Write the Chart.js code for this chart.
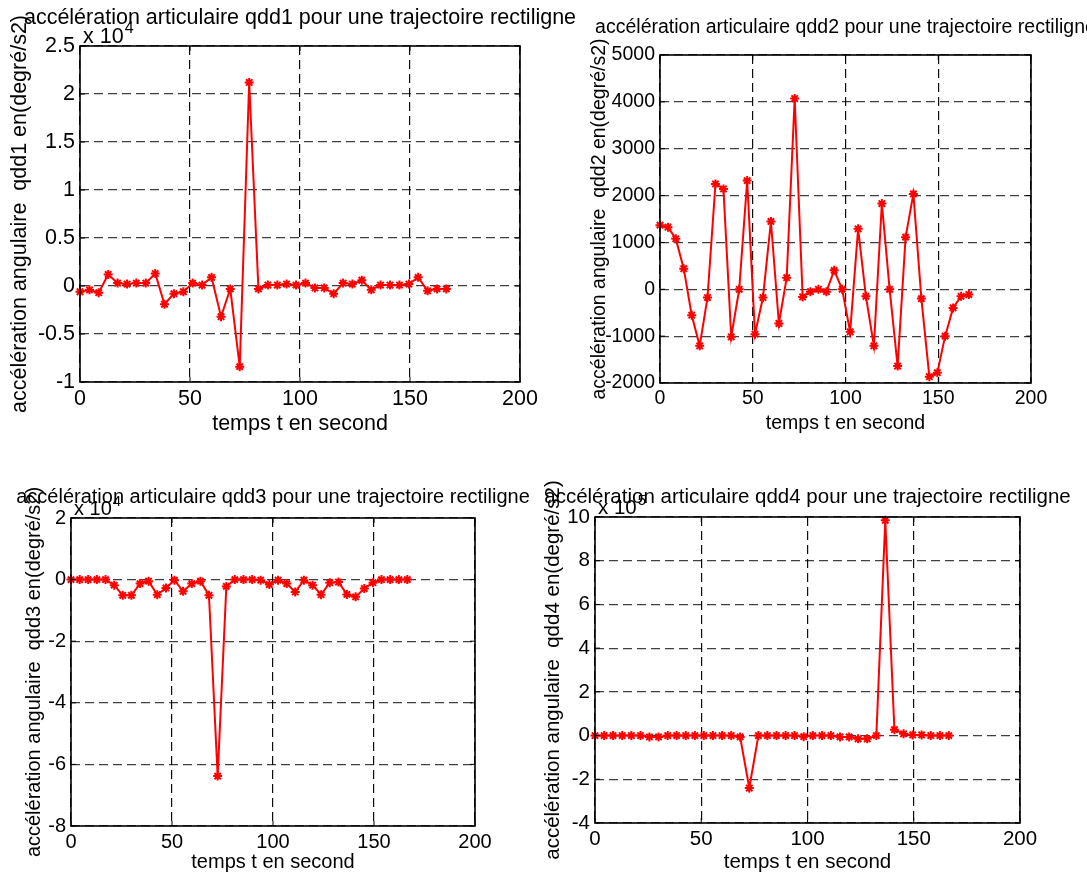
<!DOCTYPE html>
<html lang="fr">
  <head>
    <meta charset="UTF-8" />
    <title>accélération articulaire</title>
    <script src="https://cdn.jsdelivr.net/npm/chart.js@4.4.0/dist/chart.umd.min.js"></script>
    <style>
      body { margin: 0; background: #fff; }
      #page { position: relative; width: 1087px; height: 876px; overflow: hidden; }
      canvas { position: absolute; }
    </style>
    <script>
      // temps t en second (40 samples)
      const temps = [0, 4.3, 8.5, 12.8, 17.1, 21.4, 25.6, 29.9, 34.2, 38.4,
        42.7, 47.0, 51.2, 55.5, 59.8, 64.1, 68.3, 72.6, 76.9, 81.1,
        85.4, 89.7, 93.9, 98.2, 102.5, 106.8, 111.0, 115.3, 119.6, 123.8,
        128.1, 132.4, 136.6, 140.9, 145.2, 149.5, 153.7, 158.0, 162.3, 166.5];

      // qdd1 (x 10^4)
      const qdd1 = [-0.06, -0.04, -0.07, 0.12, 0.03, 0.02, 0.03, 0.03, 0.13, -0.19,
        -0.08, -0.06, 0.03, 0.01, 0.09, -0.32, -0.03, -0.84, 2.12, -0.03,
        0.01, 0.01, 0.02, 0.01, 0.03, -0.02, -0.02, -0.08, 0.03, 0.02,
        0.06, -0.04, 0.01, 0.01, 0.01, 0.02, 0.09, -0.05, -0.03, -0.03];

      // qdd2
      const qdd2 = [1369, 1326, 1078, 440, -553, -1206, -177, 2248, 2142, -1014,
        0, 2319, -957, -177, 1447, -730, 248, 4071, -163, -50,
        0, -50, 404, 0, -908, 1291, -149, -1206, 1830, 0,
        -1638, 1113, 2035, -199, -1865, -1780, -1000, -397, -149, -113];

      // qdd3 (x 10^4)
      const qdd3 = [0, 0, 0, 0, 0, -0.18, -0.51, -0.51, -0.13, -0.05,
        -0.49, -0.27, -0.02, -0.38, -0.13, -0.05, -0.51, -6.38, -0.22, 0,
        0, 0, -0.02, -0.16, -0.02, -0.13, -0.4, -0.02, -0.18, -0.49,
        -0.1, -0.08, -0.48, -0.56, -0.29, -0.1, 0, 0, 0, 0];

      // qdd4 (x 10^5)
      const qdd4 = [0, 0, 0, 0, 0, 0, -0.06, -0.06, 0, 0,
        0, 0, 0, 0, 0, 0, -0.06, -2.4, 0, 0,
        0, 0, 0, -0.05, 0, 0, 0, -0.06, -0.06, -0.15,
        -0.15, 0, 9.85, 0.27, 0.08, 0.03, 0.03, 0, 0, 0];

      const xTicks = [0, 200, 50];          // min, max, step
      const yTicks1 = [-1, 2.5, 0.5];
      const yTicks2 = [-2000, 5000, 1000];
      const yTicks3 = [-8, 2, 2];
      const yTicks4 = [-4, 10, 2];

      const titles = [
        "accélération articulaire qdd1 pour une trajectoire rectiligne",
        "accélération articulaire qdd2 pour une trajectoire rectiligne",
        "accélération articulaire qdd3 pour une trajectoire rectiligne",
        "accélération articulaire qdd4 pour une trajectoire rectiligne"
      ];
      const ylabels = [
        "accélération angulaire  qdd1 en(degré/s2)",
        "accélération angulaire  qdd2 en(degré/s2)",
        "accélération angulaire  qdd3 en(degré/s2)",
        "accélération angulaire  qdd4 en(degré/s2)"
      ];
      const xlabel = "temps t en second";
      const exponents = ["4", null, "4", "5"];
    </script>
  </head>
  <body>
    <div id="page">
      <canvas id="c1"></canvas>
      <canvas id="c2"></canvas>
      <canvas id="c3"></canvas>
      <canvas id="c4"></canvas>
    </div>
    <script>
      const FONT = "'Liberation Sans', Arial, sans-serif";
      const Y_W = 70, X_H = 40;

      // matlab-like box, inward ticks, title, labels and exponent
      const matlabLook = {
        id: "matlabLook",
        afterDraw(chart, args, o) {
          const { ctx, chartArea: a, scales } = chart;
          const x = scales.x, y = scales.y;
          ctx.save();
          ctx.strokeStyle = "#000";
          ctx.lineWidth = 1;
          ctx.setLineDash([]);
          ctx.beginPath();
          x.ticks.forEach(t => {
            const p = x.getPixelForValue(t.value);
            ctx.moveTo(p, a.bottom); ctx.lineTo(p, a.bottom - 5);
            ctx.moveTo(p, a.top); ctx.lineTo(p, a.top + 5);
          });
          y.ticks.forEach(t => {
            const p = y.getPixelForValue(t.value);
            ctx.moveTo(a.left, p); ctx.lineTo(a.left + 5, p);
            ctx.moveTo(a.right, p); ctx.lineTo(a.right - 5, p);
          });
          ctx.stroke();
          ctx.lineWidth = 1.6;
          ctx.strokeRect(a.left, a.top, a.right - a.left, a.bottom - a.top);

          ctx.fillStyle = "#000";
          ctx.font = o.size + "px " + FONT;
          ctx.textAlign = "center";
          ctx.textBaseline = "middle";
          const cx = (a.left + a.right) / 2, cy = (a.top + a.bottom) / 2;
          ctx.fillText(o.xlabel, cx, a.bottom + o.xlabelGap);

          ctx.save();
          ctx.translate(a.left - o.ylabelGap, cy);
          ctx.rotate(-Math.PI / 2);
          ctx.fillText(o.ylabel, 0, 0);
          ctx.restore();

          if (o.exp) {
            ctx.textAlign = "left";
            ctx.textBaseline = "alphabetic";
            const bx = a.left + 3, by = a.top - 3;
            ctx.fillText("x 10", bx, by);
            const w = ctx.measureText("x 10").width;
            ctx.font = Math.round(o.size * 0.75) + "px " + FONT;
            ctx.fillText(o.exp, bx + w + 1, by - o.size * 0.45);
            ctx.font = o.size + "px " + FONT;
          }
          ctx.textAlign = "center";
          ctx.textBaseline = "middle";
          ctx.fillText(o.title, cx, a.top - o.titleGap);
          ctx.restore();
        }
      };

      function makePlot(id, box, area, values, yTicks, idx, look) {
        const cv = document.getElementById(id);
        cv.style.left = box[0] + "px";
        cv.style.top = box[1] + "px";
        cv.width = box[2];
        cv.height = box[3];
        const pad = {
          left: area[0] - box[0] - Y_W,
          top: area[1] - box[1],
          right: box[0] + box[2] - area[2],
          bottom: box[1] + box[3] - area[3] - X_H
        };
        const tickFont = { family: FONT, size: look.size };
        new Chart(cv, {
          type: "line",
          data: {
            datasets: [{
              data: temps.map((t, i) => ({ x: t, y: values[i] })),
              borderColor: "#ff0000",
              backgroundColor: "#ff0000",
              borderWidth: 2,
              pointStyle: "star",
              pointRadius: 4.5,
              pointBorderWidth: 2,
              pointBorderColor: "#ff0000",
              tension: 0,
              clip: false
            }]
          },
          options: {
            responsive: false,
            animation: false,
            layout: { padding: pad },
            plugins: {
              legend: { display: false },
              tooltip: { enabled: false },
              matlabLook: Object.assign({
                title: titles[idx],
                ylabel: ylabels[idx],
                xlabel: xlabel,
                exp: exponents[idx]
              }, look)
            },
            scales: {
              x: {
                type: "linear",
                min: xTicks[0], max: xTicks[1],
                ticks: { stepSize: xTicks[2], color: "#000", font: tickFont, padding: 4, maxRotation: 0,
                  callback: v => String(v) },
                grid: { color: "rgba(0,0,0,0.95)", lineWidth: 1.2, drawTicks: false },
                border: { display: false, dash: [9, 5] },
                afterFit: s => { s.height = X_H; }
              },
              y: {
                type: "linear",
                min: yTicks[0], max: yTicks[1],
                ticks: { stepSize: yTicks[2], color: "#000", font: tickFont, padding: 5,
                  callback: v => String(v) },
                grid: { color: "rgba(0,0,0,0.75)", lineWidth: 1.2, drawTicks: false },
                border: { display: false, dash: [9, 5] },
                afterFit: s => { s.width = Y_W; }
              }
            }
          },
          plugins: [matlabLook]
        });
      }

      makePlot("c1", [0, 0, 582, 445], [80, 46, 520, 382], qdd1, yTicks1, 0,
        { size: 21.5, titleGap: 28, xlabelGap: 42, ylabelGap: 60 });
      makePlot("c2", [560, 0, 527, 445], [660, 55, 1031, 383], qdd2, yTicks2, 1,
        { size: 19.5, titleGap: 27, xlabelGap: 41, ylabelGap: 60 });
      makePlot("c3", [0, 470, 545, 406], [71, 518, 475, 826], qdd3, yTicks3, 2,
        { size: 20, titleGap: 21, xlabelGap: 36, ylabelGap: 37 });
      makePlot("c4", [520, 470, 567, 406], [595, 517, 1020, 823], qdd4, yTicks4, 3,
        { size: 20.5, titleGap: 20, xlabelGap: 39, ylabelGap: 42 });
    </script>
  </body>
</html>
